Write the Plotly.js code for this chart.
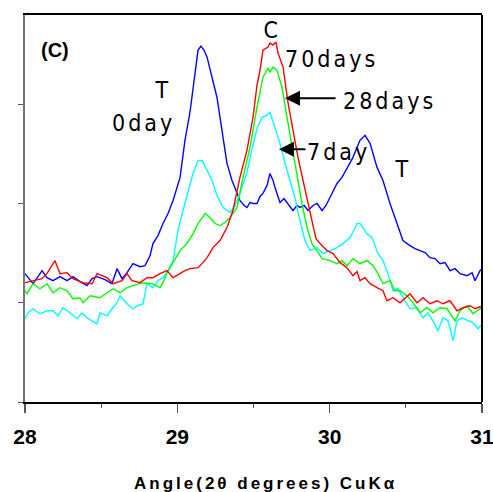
<!DOCTYPE html>
<html>
<head>
<meta charset="utf-8">
<script src="https://cdn.plot.ly/plotly-3.0.1.min.js"></script>
<style>
html,body{margin:0;padding:0;background:#fff;}
#chart{width:493px;height:492px;}
</style>
</head>
<body>
<div id="chart"></div>
<script>
// 0 day (blue)
const x0day = [28.000,28.053,28.112,28.144,28.184,28.230,28.276,28.315,28.361,28.407,28.440,28.473,28.525,28.571,28.604,28.637,28.670,28.709,28.755,28.788,28.821,28.840,28.873,28.906,28.939,28.972,29.018,29.050,29.083,29.103,29.136,29.155,29.175,29.195,29.228,29.260,29.293,29.326,29.359,29.392,29.411,29.438,29.457,29.477,29.497,29.523,29.543,29.562,29.589,29.608,29.628,29.641,29.674,29.700,29.720,29.759,29.786,29.805,29.832,29.858,29.891,29.917,29.950,29.976,30.002,30.048,30.081,30.114,30.153,30.199,30.232,30.265,30.311,30.350,30.396,30.442,30.481,30.527,30.560,30.593,30.626,30.659,30.692,30.724,30.757,30.790,30.823,30.856,30.902,30.935,30.954,30.987,31.000];
const y0day = [128,118,131,124,121,125,121,125,120,116,123,125,122,118,133,123,129,138,135,136,146,158,166,178,188,201,224,261,289,311,351,355,351,344,324,304,271,238,221,208,201,196,194,199,198,198,205,208,216,228,221,214,199,203,199,191,196,194,196,191,196,198,191,196,204,218,224,233,244,261,266,258,234,221,198,178,161,156,153,151,149,144,143,138,139,131,133,128,126,129,121,131,133];

// 7 days (cyan)
const x7day = [28.000,28.020,28.053,28.098,28.144,28.184,28.217,28.249,28.295,28.341,28.374,28.407,28.440,28.473,28.492,28.538,28.571,28.604,28.624,28.670,28.709,28.742,28.775,28.801,28.840,28.873,28.906,28.939,28.972,29.004,29.037,29.070,29.103,29.136,29.162,29.195,29.228,29.260,29.300,29.346,29.379,29.411,29.457,29.477,29.497,29.523,29.556,29.589,29.608,29.641,29.674,29.707,29.740,29.772,29.805,29.838,29.871,29.917,29.956,30.002,30.048,30.088,30.134,30.180,30.199,30.245,30.278,30.317,30.350,30.383,30.416,30.449,30.481,30.527,30.573,30.613,30.645,30.678,30.711,30.744,30.777,30.810,30.836,30.869,30.908,30.941,30.974,30.987,31.000];
const y7day = [83,89,93,88,91,91,86,94,89,83,89,84,81,78,89,86,93,99,106,98,93,96,98,118,114,121,124,131,141,171,191,211,228,241,241,231,221,206,194,189,196,208,229,243,256,273,284,286,289,274,258,238,221,204,181,161,151,154,148,151,154,158,164,178,178,168,164,148,141,128,111,113,104,93,94,84,89,81,71,84,81,61,81,84,81,79,73,76,74];

// 28 days (green)
const x28day = [28.000,28.013,28.053,28.098,28.144,28.184,28.230,28.276,28.315,28.361,28.381,28.427,28.492,28.538,28.578,28.624,28.670,28.709,28.775,28.834,28.886,28.906,28.932,28.972,29.018,29.063,29.103,29.136,29.182,29.214,29.247,29.280,29.313,29.346,29.392,29.431,29.477,29.523,29.543,29.562,29.582,29.595,29.608,29.628,29.654,29.687,29.720,29.753,29.786,29.818,29.851,29.884,29.917,29.950,30.002,30.048,30.081,30.114,30.153,30.199,30.245,30.285,30.317,30.350,30.396,30.429,30.462,30.508,30.547,30.593,30.639,30.678,30.724,30.770,30.823,30.856,30.902,30.941,30.987,31.000];
const y28day = [111,108,118,113,118,109,114,111,103,104,99,106,104,109,113,109,114,116,119,118,114,119,129,139,151,158,168,178,188,184,178,176,179,184,194,224,254,294,311,324,329,333,329,334,331,314,284,254,228,198,174,158,151,143,141,138,141,136,143,138,141,136,128,118,121,111,111,106,99,89,94,89,94,93,81,91,96,88,93,93];

// 70 days (red)
const x70day = [28.000,28.053,28.112,28.144,28.197,28.230,28.276,28.315,28.381,28.440,28.473,28.538,28.578,28.637,28.670,28.702,28.755,28.801,28.840,28.886,28.932,28.972,29.018,29.050,29.083,29.136,29.168,29.195,29.234,29.280,29.326,29.365,29.411,29.457,29.497,29.523,29.543,29.562,29.595,29.608,29.628,29.648,29.661,29.694,29.727,29.759,29.792,29.825,29.858,29.891,29.910,29.937,29.983,30.022,30.068,30.114,30.153,30.180,30.199,30.232,30.265,30.311,30.350,30.376,30.416,30.462,30.494,30.527,30.573,30.613,30.659,30.705,30.744,30.790,30.836,30.875,30.921,30.954,30.987,31.000];
const y70day = [119,121,123,128,141,128,129,123,119,118,128,124,118,121,128,121,119,124,124,128,131,124,128,131,133,134,139,144,154,161,174,191,224,251,284,316,331,351,354,358,356,359,348,334,298,271,244,221,198,174,163,158,151,148,139,134,126,130,121,124,118,114,111,101,104,99,103,108,99,104,98,101,98,101,91,94,96,93,95,95];

const xTickVals = [28,29,30,31];
const xTickText = ['28','29','30','31'];
const xMinorVals = [28.5,29.5,30.5];
const yTickVals = [0,99,198,297];
const xTitle = 'Angle(2θ degrees) CuKα';

const lw = 1.4;
const traces = [
  {x:x0day, y:y0day, name:'0day', mode:'lines', line:{color:'#0000ff', width:lw}},
  {x:x7day, y:y7day, name:'7day', mode:'lines', line:{color:'#00ffff', width:lw}},
  {x:x28day, y:y28day, name:'28days', mode:'lines', line:{color:'#00ff00', width:lw}},
  {x:x70day, y:y70day, name:'70days', mode:'lines', line:{color:'#ff0000', width:lw}}
];

const lblFont = {family:'"Liberation Sans Narrow","DejaVu Sans Condensed","Liberation Sans",sans-serif', size:23, color:'#000'};
function lbl(text, x, y){
  return {text:text, x:x, y:y, xref:'x', yref:'y', showarrow:false, font:lblFont, xanchor:'center', yanchor:'middle'};
}
function arrow(x, y, ax){
  return {text:'', x:x, y:y, xref:'x', yref:'y', ax:ax, ay:0, showarrow:true,
          arrowhead:2, arrowsize:1.5, arrowwidth:2, arrowcolor:'#000', standoff:0};
}

const annotations = [
  {text:'(C)', x:28.197, y:351, xref:'x', yref:'y', showarrow:false,
   font:{family:'"Liberation Sans",Arial,sans-serif', size:20, weight:'bold', color:'#000'}},
  lbl('T', 28.906, 311),
  lbl('0day', 28.781, 278),
  lbl('C', 29.621, 371),
  lbl('70days', 30.009, 342),
  lbl('28days', 30.396, 300),
  lbl('7day', 30.055, 249),
  lbl('T', 30.481, 232),
  arrow(29.707, 303, 52),
  arrow(29.667, 252, 28),
  {text:xTitle, xref:'paper', yref:'paper', x:0.527, y:-0.211, xanchor:'center', yanchor:'middle',
   showarrow:false, font:{family:'"Liberation Sans",Arial,sans-serif', size:17, weight:'bold', color:'#000'}}
];

const layout = {
  width:493, height:492,
  margin:{l:25, r:11, t:15, b:90},
  paper_bgcolor:'#fff', plot_bgcolor:'#fff',
  showlegend:false,
  xaxis:{
    range:[28,31], tickmode:'array', tickvals:xTickVals, ticktext:xTickText,
    ticks:'outside', ticklen:9, tickwidth:1.5, tickcolor:'#555',
    minor:{ticks:'outside', tickmode:'array', tickvals:xMinorVals, ticklen:4, tickwidth:1, tickcolor:'#555', showgrid:false},
    showgrid:false, zeroline:false,
    showline:true, linecolor:'#000', linewidth:2, mirror:true,
    ticklabeloverflow:'allow',
    tickfont:{family:'"Liberation Sans",Arial,sans-serif', size:21, weight:'bold', color:'#000'},
    ticklabelstandoff:6
  },
  yaxis:{
    range:[0,386], tickvals:yTickVals, showticklabels:false,
    ticks:'outside', ticklen:5, tickwidth:1, tickcolor:'#555',
    showgrid:false, zeroline:false,
    showline:true, linecolor:'#777', linewidth:2
  },
  shapes:[
    {type:'line', xref:'paper', yref:'paper', x0:1, x1:1, y0:0, y1:1, line:{color:'#000', width:2}}
  ],
  annotations:annotations
};

Plotly.newPlot('chart', traces, layout, {displayModeBar:false, staticPlot:true}).then(function(){
  document.querySelectorAll('.annotation-text').forEach(function(t){
    const s = t.textContent;
    if (!s || s === '(C)') return;
    t.style.letterSpacing = (s === xTitle) ? '3px' : '3px';
  });
});
</script>
</body>
</html>
